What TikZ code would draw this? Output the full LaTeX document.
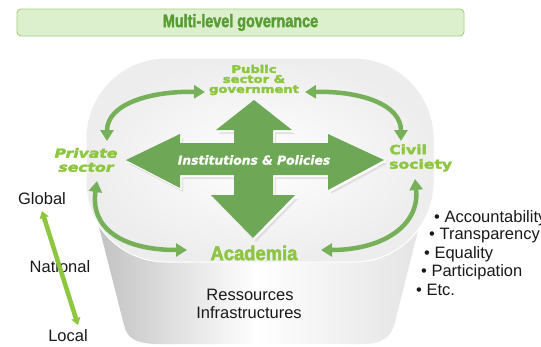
\documentclass[tikz,border=0pt]{standalone}
\usepackage{fontspec}
\setmainfont{Liberation Sans}
\newfontfamily\condfont[FakeStretch=0.8, FakeBold=2,
  BoldFont={Liberation Sans Bold}]{Liberation Sans}
\newfontfamily\widefont[FakeStretch=1.25, FakeBold=3,
  BoldFont={DejaVu Sans Bold}, BoldItalicFont={DejaVu Sans Bold Oblique}]{DejaVu Sans}
\newfontfamily\dvfont[FakeBold=1.2, BoldFont={DejaVu Sans Bold},
  BoldItalicFont={DejaVu Sans Bold Oblique}]{DejaVu Sans}
\usetikzlibrary{arrows.meta}

\definecolor{titlefill}{RGB}{221,240,206}
\definecolor{titleedge}{RGB}{165,209,126}
\definecolor{titletext}{RGB}{88,156,52}
\definecolor{crossgreen}{RGB}{110,168,86}
\definecolor{linkgreen}{RGB}{118,176,88}
\definecolor{lime}{RGB}{141,198,63}
\definecolor{bodytext}{RGB}{25,25,25}

\begin{document}
\begin{tikzpicture}[x=1pt,y=-1pt,
  titlebox/.style={draw=titleedge, line width=0.9pt, fill=titlefill,
    rounded corners=4pt, minimum width=447pt, minimum height=27pt,
    text=titletext, font=\condfont\bfseries\fontsize{18}{18}\selectfont},
  actor/.style={text=lime, inner sep=1pt},
  plain/.style={text=bodytext, inner sep=1pt,
    font=\fontsize{16.5}{18}\selectfont},
  bullet/.style={plain, anchor=west},
  link/.style={draw=linkgreen, line width=4.5pt,
    {Triangle[length=11pt,width=13pt]}-{Triangle[length=11pt,width=13pt]}},
  scale arrow/.style={draw=lime, line width=4.5pt,
    {Triangle[length=7pt,width=9pt]}-{Triangle[length=7pt,width=9pt]}}
]
\useasboundingbox (0,0) rectangle (541,346);
\fill[white] (0,0) rectangle (541,346);

% cylinder body below the lid
\begin{scope}
  \clip (96,215) -- (124,325) .. controls (127,338) and (135,343) .. (155,344)
        -- (365,344) .. controls (385,343) and (392,335) .. (395,322)
        -- (422,215) -- cycle;
  \shade[left color=gray!50, right color=white] (90,200) rectangle (256,346);
  \shade[left color=white, right color=gray!22] (254,200) rectangle (425,346);
\end{scope}

% lid of the cylinder
\shade[inner color=white, outer color=gray!14, rounded corners=80pt]
  (86,58) rectangle (434,262);
\draw[white, line width=1pt, rounded corners=80pt] (86,58) rectangle (434,262);

% title banner
\node[titlebox] (title) at (240.5,22.5) {Multi-level governance};

% four-way arrow
\def\crosspath{(254,100) -- (292,130) -- (273,130) -- (273,143) -- (328,143)
  -- (328,134) -- (384,160) -- (328,190) -- (328,175) -- (273,175)
  -- (273,195) -- (295,195) -- (253,238) -- (211,195) -- (234,195)
  -- (234,175) -- (180,175) -- (180,188) -- (126,160) -- (180,134)
  -- (180,143) -- (234,143) -- (234,130) -- (216,130) -- cycle}
\fill[gray!40, opacity=0.5, shift={(3pt,-4pt)}] \crosspath;
\fill[white, shift={(1.5pt,-2pt)}] \crosspath;
\fill[crossgreen] \crosspath;
\node[text=white, font=\dvfont\bfseries\itshape\fontsize{12.3}{12}\selectfont]
  (inst) at (254,160) {Institutions \& Policies};

% actors
\node[actor, align=center, font=\widefont\bfseries\fontsize{10.5}{10}\selectfont]
  (pub) at (254,80) {Public\\sector \&\\government};
\node[actor, align=center, font=\widefont\bfseries\itshape\fontsize{12.5}{14}\selectfont]
  (priv) at (86,160) {Private\\sector};
\node[actor, align=left, anchor=west, font=\widefont\bfseries\fontsize{12.5}{14.5}\selectfont]
  (civ) at (388,158) {Civil\\society};
\node[actor, font=\condfont\bfseries\fontsize{20}{20}\selectfont, xscale=1.15]
  (acad) at (254,253) {Academia};

% links between actors
\coordinate (pvTop) at (107,141);
\coordinate (pvBot) at (97,181);
\coordinate (cvTop) at (401,141);
\coordinate (cvBot) at (415,179);
\coordinate (pubL) at (205,92);
\coordinate (pubR) at (305,92);
\coordinate (acL) at (187,250);
\coordinate (acR) at (321,250);
\draw[link] (pvTop) .. controls (107,104) and (150,91) .. (pubL);
\draw[link] (pubR) .. controls (360,91) and (401,104) .. (cvTop);
\draw[link] (pvBot) .. controls (90,228) and (122,250) .. (acL);
\draw[link] (cvBot) .. controls (420,226) and (382,250) .. (acR);

% resources
\node[plain] (res) at (250,295) {Ressources};
\node[plain] (infra) at (249,313) {Infrastructures};

% governance scale
\node[plain] (glob) at (42,199) {Global};
\node[plain] (nat) at (60,267) {National};
\node[plain] (loc) at (68,336) {Local};
\coordinate (gTop) at (42,211);
\coordinate (gBot) at (78,325);
\draw[scale arrow] (gTop) -- (gBot);

% principles
\node[bullet] (b1) at (433,218) {\textbullet\ Accountability};
\node[bullet] (b2) at (428,236) {\textbullet\ Transparency};
\node[bullet] (b3) at (423,254) {\textbullet\ Equality};
\node[bullet] (b4) at (420,272) {\textbullet\ Participation};
\node[bullet] (b5) at (415,290) {\textbullet\ Etc.};
\end{tikzpicture}
\end{document}
